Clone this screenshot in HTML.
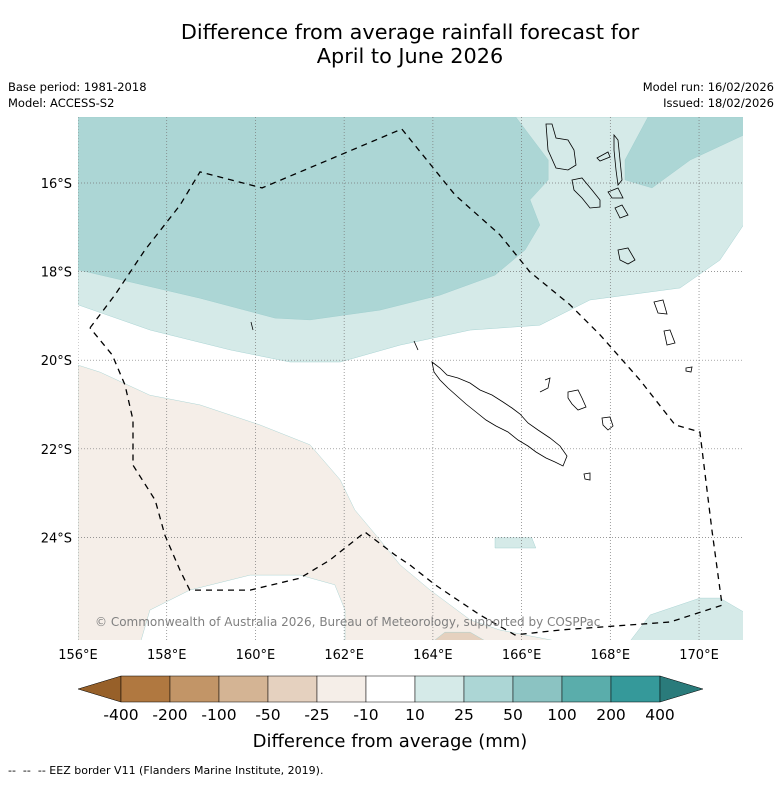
<!DOCTYPE html>
<html><head><meta charset="utf-8"><style>
body{margin:0;background:#fff;width:781px;height:781px;overflow:hidden;font-family:"Liberation Sans","DejaVu Sans",sans-serif}
svg text{font-family:"DejaVu Sans","Liberation Sans",sans-serif}
</style></head><body>
<svg id="c" width="781" height="781">
<text x="410" y="39" font-size="20.8" text-anchor="middle">Difference from average rainfall forecast for</text>
<text x="410" y="63" font-size="20.8" text-anchor="middle">April to June 2026</text>
<text x="8" y="91" font-size="11.5">Base period: 1981-2018</text>
<text x="8" y="107" font-size="11.5">Model: ACCESS-S2</text>
<text x="774" y="91" font-size="11.5" text-anchor="end">Model run: 16/02/2026</text>
<text x="774" y="107" font-size="11.5" text-anchor="end">Issued: 18/02/2026</text>
<defs><clipPath id="mc"><rect x="78" y="117" width="665" height="523"/></clipPath></defs>
<g id="map" clip-path="url(#mc)"></g>
<g id="coast" clip-path="url(#mc)" fill="none" stroke="#000" stroke-width="0.8">
<path d="M432,362 L440,368 L447,375 L458,378 L470,383 L480,390 L492,395 L503,402 L512,408 L520,414 L528,423 L538,430 L550,438 L560,446 L567,456 L563,466 L555,462 L546,458 L536,452 L528,446 L518,440 L508,432 L496,426 L486,420 L476,412 L466,404 L457,396 L448,388 L440,380 L434,372 Z"/>
<path d="M414,341 L418,350"/>
<path d="M545,380 L550,378 L548,388 L540,392"/>
<path d="M568,392 L578,390 L582,398 L586,407 L578,410 L572,404 L568,398 Z"/>
<path d="M602,418 L610,417 L613,426 L608,430 L603,425 Z"/>
<path d="M584,474 L590,473 L590,480 L585,479 Z"/>
<path d="M546,124 L552,124 L556,138 L568,140 L574,150 L576,165 L568,170 L556,168 L548,150 Z"/>
<path d="M572,180 L582,178 L592,190 L600,200 L600,207 L590,208 L582,198 L574,190 Z"/>
<path d="M597,158 L608,152 L610,157 L600,161 Z"/>
<path d="M614,135 L618,140 L620,160 L622,180 L618,185 L616,170 L614,150 Z"/>
<path d="M608,192 L618,188 L623,198 L612,198 Z"/>
<path d="M615,208 L622,205 L628,215 L620,218 Z"/>
<path d="M618,250 L628,248 L635,260 L628,264 L620,260 Z"/>
<path d="M654,302 L663,300 L667,314 L658,313 Z"/>
<path d="M664,331 L670,330 L675,343 L667,345 Z"/>
<path d="M686,368 L692,367 L691,372 L686,371 Z"/>
<path d="M251,322 L253,330"/>
</g>
<g id="eez" clip-path="url(#mc)"></g>
<text x="95" y="626" font-size="12" fill="#808080">© Commonwealth of Australia 2026, Bureau of Meteorology, supported by COSPPac</text>
<g id="ticks"></g>
<g id="cbar"></g>
<text x="390" y="747" font-size="18" text-anchor="middle">Difference from average (mm)</text>
<text x="8" y="774" font-size="11" xml:space="preserve">--  --  -- EEZ border V11 (Flanders Marine Institute, 2019).</text>
</svg>
<script>
const lonTicks=[156,158,160,162,164,166,168,170];
const latTicks=[16,18,20,22,24];
const lightPoly=[[156,14.51],[171,14.51],[171,16.95],[170.47,17.74],[169.57,18.37],[167.54,18.64],[166.41,19.21],[164.84,19.32],[163.26,19.66],[161.91,20.04],[160.78,20.04],[159.44,19.77],[157.63,19.32],[156,18.75]];
const darkPoly=[[156,14.51],[165.87,14.51],[166.6,15.48],[166.6,15.93],[166.19,16.38],[166.41,16.95],[166.08,17.51],[165.4,18.08],[164.16,18.53],[162.81,18.87],[161.23,19.09],[160.44,19.05],[158.75,18.6],[156,17.96]];
const darkRight=[[168.85,14.51],[171,14.51],[171,14.92],[169.8,15.48],[168.94,16.11],[168.33,15.93],[168.33,15.48]];
const lightBR=[[168.4,26.4],[168.9,25.75],[170.02,25.37],[170.47,25.37],[171,25.68],[171,26.4]];
const lightPatch=[[165.4,24.01],[166.23,24.01],[166.32,24.24],[165.4,24.24]];
const brownPoly=[[156,20.11],[156.5,20.27],[157.62,20.79],[158.75,21.01],[160.1,21.46],[161.23,21.91],[161.91,22.7],[162.24,23.38],[162.81,24.06],[163.26,24.62],[163.94,25.19],[164.84,25.86],[165.51,26.09],[167.09,26.4],[156,26.4]];
const whiteHole=[[157.4,26.4],[157.62,25.64],[158.52,25.19],[159.88,24.85],[161,24.85],[161.79,25.07],[162.02,25.64],[162.02,26.4]];
const brown2Poly=[[163.94,26.4],[164.27,26.14],[164.84,26.14],[165.29,26.4]];
const eezLine=[[156.27,19.27],[156.83,18.53],[157.51,17.51],[158.3,16.5],[158.75,15.75],[160.15,16.11],[163.3,14.78],[164.5,16.27],[165.51,17.17],[166.19,18.01],[167.09,18.75],[167.77,19.43],[168.67,20.45],[169.46,21.46],[170.02,21.62],[170.29,23.83],[170.52,25.53],[169.35,25.91],[166.87,26.09],[165.85,26.2],[165.06,25.75],[164.05,25.07],[163.48,24.62],[163.15,24.4],[162.47,23.88],[161.68,24.51],[161,24.92],[159.88,25.19],[158.52,25.19],[158.3,24.74],[157.96,23.95],[157.74,23.16],[157.24,22.37],[157.24,21.35],[157.06,20.56],[156.77,19.88],[156.27,19.27]];
const cbLabels=["-400","-200","-100","-50","-25","-10","10","25","50","100","200","400"];
const cbColors=["#b07840","#c29567","#d4b494","#e5d1bf","#f5eee8","#ffffff","#d5eae8","#acd6d5","#8bc3c2","#5aadab","#35999a"];
const NS="http://www.w3.org/2000/svg";
const X=lon=>78+(lon-156)*44.36;
const Y=lat=>183+(lat-16)*44.3;
function mk(t,a,p){const e=document.createElementNS(NS,t);for(const k in a)e.setAttribute(k,a[k]);p.appendChild(e);return e;}
const pts=a=>a.map(p=>X(p[0]).toFixed(1)+","+Y(p[1]).toFixed(1)).join(" ");
const map=document.getElementById('map');
function poly(a,fill,name){const e=mk('polygon',{points:pts(a),fill:fill,stroke:'#9cc',"stroke-width":0.4},map);

}
poly(lightPoly,'#d5eae8','contour-10-25-north');
poly(darkPoly,'#acd6d5','contour-25-50-northwest');
poly(darkRight,'#acd6d5','contour-25-50-northeast');
poly(lightBR,'#d5eae8','contour-10-25-southeast');
poly(lightPatch,'#d5eae8','contour-10-25-patch');
poly(brownPoly,'#f5eee8','contour-minus25-minus10');
poly(whiteHole,'#ffffff','contour-neutral-south');
poly(brown2Poly,'#e5d1bf','contour-minus50-minus25');
for(const l of lonTicks){const e=mk('line',{x1:X(l),x2:X(l),y1:117,y2:640,stroke:'#777',"stroke-width":0.7,"stroke-dasharray":"1,2"},map);

}
for(const l of latTicks){const e=mk('line',{x1:78,x2:743,y1:Y(l),y2:Y(l),stroke:'#777',"stroke-width":0.7,"stroke-dasharray":"1,2"},map);

}
const eez=document.getElementById('eez');
const el=mk('polyline',{points:pts(eezLine),fill:'none',stroke:'#000',"stroke-width":1.3,"stroke-dasharray":"6,5"},eez);


const tk=document.getElementById('ticks');
for(const l of lonTicks){const t=mk('text',{x:X(l),y:659,"font-size":13,"text-anchor":"middle"},tk);t.textContent=l+"°E";

}
for(const l of latTicks){const t=mk('text',{x:72,y:Y(l)+5,"font-size":13,"text-anchor":"end"},tk);t.textContent=l+"°S";

}
const cb=document.getElementById('cbar');
const x0=121,w=49,y0=676,h=26;
let tri=mk('polygon',{points:`${x0},${y0} 78,${y0+h/2} ${x0},${y0+h}`,fill:'#976029',stroke:'#000',"stroke-width":0.5},cb);


cbColors.forEach((c,i)=>{const r=mk('rect',{x:x0+i*w,y:y0,width:w,height:h,fill:c,stroke:'#000',"stroke-width":0.5},cb);

});
const xe=x0+cbColors.length*w;
tri=mk('polygon',{points:`${xe},${y0} ${xe+43},${y0+h/2} ${xe},${y0+h}`,fill:'#2a7b7b',stroke:'#000',"stroke-width":0.5},cb);


cbLabels.forEach((s,i)=>{const t=mk('text',{x:x0+i*w,y:720,"font-size":15.5,"text-anchor":"middle"},cb);t.textContent=s;

});
</script>
</body></html>
